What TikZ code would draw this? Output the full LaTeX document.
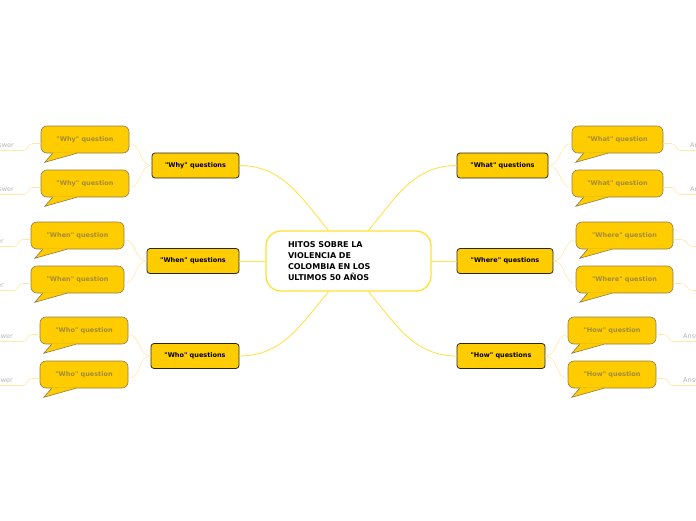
\documentclass[tikz,border=0pt]{standalone}
\usepackage{fontspec}
\setmainfont{DejaVu Sans}
\newfontfamily\mmfont{DejaVu Sans}
\usetikzlibrary{positioning}
\definecolor{mmgold}{HTML}{FFCC00}
\definecolor{mmhub}{HTML}{FFE033}
\definecolor{mmline}{HTML}{FFE24D}
\definecolor{mmleaf}{HTML}{FFE9A6}
\definecolor{mmedge}{HTML}{8C7C4C}
\definecolor{mmtext}{HTML}{A08C3C}
\definecolor{mmgray}{HTML}{B5B5B5}

\begin{document}
\begin{tikzpicture}[x=1pt,y=-1pt,
          hubbox/.style={
              draw=mmhub,
              fill=white,
              rounded corners=15pt,
              line width=1.3pt,
              minimum width=165pt,
              minimum height=60pt,
              inner xsep=22pt,
              text width=121pt,
              align=left,
              font=\mmfont\fontsize{8}{11}\selectfont\bfseries
            },
          topic/.style={
              draw=black!85,
              fill=mmgold,
              rounded corners=3pt,
              line width=0.8pt,
              minimum height=25pt,
              inner sep=0pt,
              font=\mmfont\fontsize{6.5}{8}\selectfont\bfseries
            },
          bubble/.style={
              draw=mmedge,
              fill=mmgold,
              rounded corners=6pt,
              line width=0.6pt,
              minimum height=27pt,
              inner sep=0pt,
              text=mmtext,
              font=\mmfont\fontsize{6.5}{8}\selectfont\bfseries
            },
          answer/.style={text=mmgray, inner xsep=1pt, inner ysep=3pt, font=\mmfont\fontsize{6.5}{8}\selectfont},
          hubline/.style={mmline, line width=0.9pt},
          leafline/.style={mmleaf, line width=0.6pt}
        ]
        \useasboundingbox (0,0) rectangle (696,520);
        % central topic
        \node[hubbox] (hub) at (348.5,261) {HITOS SOBRE LA\\VIOLENCIA DE\\COLOMBIA EN LOS\\ULTIMOS 50 AÑOS};
        % main topics
        \node[topic, minimum width=87pt] (why) at (195.5,165.5) {"Why" questions};
        \node[topic, minimum width=92pt] (when) at (193,261) {"When" questions};
        \node[topic, minimum width=88pt] (who) at (195,356) {"Who" questions};
        \node[topic, minimum width=91pt] (what) at (502.5,165.5) {"What" questions};
        \node[topic, minimum width=96pt] (where) at (505,261) {"Where" questions};
        \node[topic, minimum width=88pt] (how) at (501,356) {"How" questions};
        % question bubbles
        \node[bubble, minimum width=88pt] (qwhy1) at (85,139.5) {"Why" question};
        \node[bubble, minimum width=88pt] (qwhy2) at (85,183.5) {"Why" question};
        \node[bubble, minimum width=93pt] (qwhen1) at (77.5,235.5) {"When" question};
        \node[bubble, minimum width=93pt] (qwhen2) at (77.5,279.5) {"When" question};
        \node[bubble, minimum width=88pt] (qwho1) at (84,330.5) {"Who" question};
        \node[bubble, minimum width=88pt] (qwho2) at (84,374.5) {"Who" question};
        \node[bubble, minimum width=91pt] (qwhat1) at (617.5,139.5) {"What" question};
        \node[bubble, minimum width=91pt] (qwhat2) at (617.5,183.5) {"What" question};
        \node[bubble, minimum width=97pt] (qwhere1) at (624.5,235.5) {"Where" question};
        \node[bubble, minimum width=97pt] (qwhere2) at (624.5,279.5) {"Where" question};
        \node[bubble, minimum width=88pt] (qhow1) at (612,330.5) {"How" question};
        \node[bubble, minimum width=88pt] (qhow2) at (612,374.5) {"How" question};
        % bubble tails
        \foreach \q in {qwhy1,qwhy2,qwhen1,qwhen2,qwho1,qwho2,qwhat1,qwhat2,qwhere1,qwhere2,qhow1,qhow2}{
          \fill[mmgold] ([xshift=12pt,yshift=0.9pt]\q.south west) -- ([xshift=12pt]\q.south west)
            -- ([xshift=4pt,yshift=-9pt]\q.south west) -- ([xshift=36pt]\q.south west)
            -- ([xshift=36pt,yshift=0.9pt]\q.south west) -- cycle;
          \draw[mmedge, line width=0.6pt] ([xshift=12pt]\q.south west)
            -- ([xshift=4pt,yshift=-9pt]\q.south west) -- ([xshift=36pt]\q.south west);
        }
        % answers
        \node[answer, anchor=south east] (awhy1) at (15,150.5) {Answer};
        \node[answer, anchor=south east] (awhy2) at (15,194.5) {Answer};
        \node[answer, anchor=south east] (awhen1) at (5,246.5) {Answer};
        \node[answer, anchor=south east] (awhen2) at (5,290.5) {Answer};
        \node[answer, anchor=south east] (awho1) at (14,341.5) {Answer};
        \node[answer, anchor=south east] (awho2) at (14,385.5) {Answer};
        \node[answer, anchor=south west] (awhat1) at (689,150.5) {Answer};
        \node[answer, anchor=south west] (awhat2) at (689,194.5) {Answer};
        \node[answer, anchor=south west] (awhere1) at (702,246.5) {Answer};
        \node[answer, anchor=south west] (awhere2) at (702,290.5) {Answer};
        \node[answer, anchor=south west] (ahow1) at (682,341.5) {Answer};
        \node[answer, anchor=south west] (ahow2) at (682,385.5) {Answer};
        % hub to topics
        \draw[hubline] ([xshift=-20pt]hub.north) to[out=130,in=0] (why.east);
        \draw[hubline] (hub.west) -- (when.east);
        \draw[hubline] ([xshift=-20pt]hub.south) to[out=230,in=0] (who.east);
        \draw[hubline] ([xshift=20pt]hub.north) to[out=50,in=180] (what.west);
        \draw[hubline] (hub.east) -- (where.west);
        \draw[hubline] ([xshift=20pt]hub.south) to[out=-50,in=180] (how.west);
        % topics to questions
        \foreach \t/\q in {why/qwhy1,why/qwhy2,when/qwhen1,when/qwhen2,who/qwho1,who/qwho2}
          \draw[leafline] (\t.west) to[out=180,in=0] ([yshift=-4pt]\q.east);
        \foreach \t/\q in {what/qwhat1,what/qwhat2,where/qwhere1,where/qwhere2,how/qhow1,how/qhow2}
          \draw[leafline] (\t.east) to[out=0,in=180] ([yshift=-4pt]\q.west);
        % questions to answers
        \foreach \q/\a in {qwhy1/awhy1,qwhy2/awhy2,qwhen1/awhen1,qwhen2/awhen2,qwho1/awho1,qwho2/awho2}
          \draw[leafline] ([yshift=-4pt]\q.west) -- ++(-8,0) to[out=180,in=0] ([xshift=9pt]\a.south east) -- (\a.south west);
        \foreach \q/\a in {qwhat1/awhat1,qwhat2/awhat2,qwhere1/awhere1,qwhere2/awhere2,qhow1/ahow1,qhow2/ahow2}
          \draw[leafline] ([yshift=-4pt]\q.east) -- ++(8,0) to[out=0,in=180] ([xshift=-9pt]\a.south west) -- (\a.south east);
      \end{tikzpicture}
\end{document}
